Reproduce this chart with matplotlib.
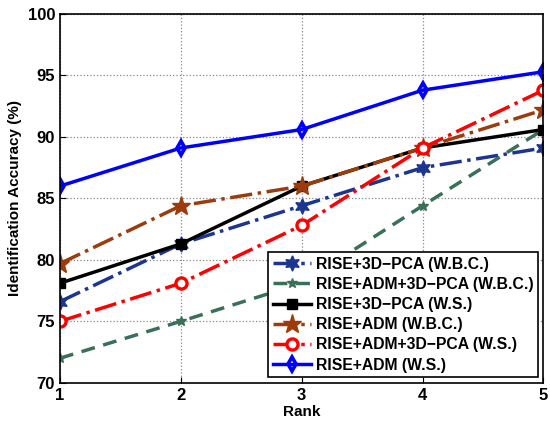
import matplotlib
matplotlib.use("Agg")
import matplotlib.pyplot as plt

plt.rcParams['font.family'] = ['Liberation Sans', 'DejaVu Sans']
plt.rcParams['font.weight'] = 'bold'

rank = [1, 2, 3, 4, 5]

pca_wbc = [76.6, 81.3, 84.4, 87.5, 89.1]
adm_pca_wbc = [72.0, 75.0, 78.1, 84.4, 90.6]
pca_ws = [78.1, 81.3, 86.0, 89.1, 90.6]
adm_wbc = [79.7, 84.4, 86.0, 89.1, 92.2]
adm_pca_ws = [75.0, 78.1, 82.8, 89.1, 93.8]
adm_ws = [86.0, 89.1, 90.6, 93.8, 95.3]

labels = [
    "RISE+3D\u2212PCA (W.B.C.)",
    "RISE+ADM+3D\u2212PCA (W.B.C.)",
    "RISE+3D\u2212PCA (W.S.)",
    "RISE+ADM (W.B.C.)",
    "RISE+ADM+3D\u2212PCA (W.S.)",
    "RISE+ADM (W.S.)",
]

fig = plt.figure(figsize=(5.5, 4.23), dpi=100)
ax = fig.add_axes([0.109, 0.095, 0.879, 0.872])

lw = 2.5
ax.plot(rank, pca_wbc, linestyle='-.', color='#1c3590', lw=lw,
        marker=(6, 1, 0), markersize=11, label=labels[0])
ax.plot(rank, adm_pca_wbc, linestyle=(0, (4, 2.5)), color='#3a7058', lw=lw,
        marker='*', markersize=7, label=labels[1])
ax.plot(rank, pca_ws, linestyle='-', color='black', lw=lw,
        marker='s', markersize=7, label=labels[2])
ax.plot(rank, adm_wbc, linestyle='-.', color='#9c3c0c', lw=lw,
        marker='*', markersize=14, label=labels[3])
ax.plot(rank, adm_pca_ws, linestyle='-.', color='#ff0000', lw=lw,
        marker='o', markersize=8, markerfacecolor='white', markeredgewidth=2.4,
        label=labels[4])
ax.plot(rank, adm_ws, linestyle='-', color='#0000ff', lw=lw,
        marker='d', markersize=7.5, markerfacecolor='none', markeredgewidth=2.6,
        label=labels[5])

ax.set_xlim(1, 5)
ax.set_ylim(70, 100)
ax.set_xticks(rank)
ax.set_yticks([70, 75, 80, 85, 90, 95, 100])
ax.grid(True, linestyle=':', color='#888888', linewidth=0.9)
ax.tick_params(labelsize=12, direction='in', length=4)
for lab in ax.get_xticklabels() + ax.get_yticklabels():
    lab.set_fontweight('bold')
for s in ax.spines.values():
    s.set_linewidth(1.2)

ax.set_xlabel("Rank", fontsize=11, fontweight='bold', labelpad=2)
ax.set_ylabel("Identification Accuracy (%)", fontsize=11, fontweight='bold')

leg = ax.legend(loc='lower right', fontsize=11.3, frameon=True, fancybox=False,
                borderpad=0.3, labelspacing=0.33, handlelength=2.4,
                handletextpad=0.3, borderaxespad=0.35, framealpha=1)
leg.get_frame().set_edgecolor('black')
leg.get_frame().set_linewidth(1.2)
for t in leg.get_texts():
    t.set_fontweight('bold')

fig.savefig("out.png", dpi=100)
